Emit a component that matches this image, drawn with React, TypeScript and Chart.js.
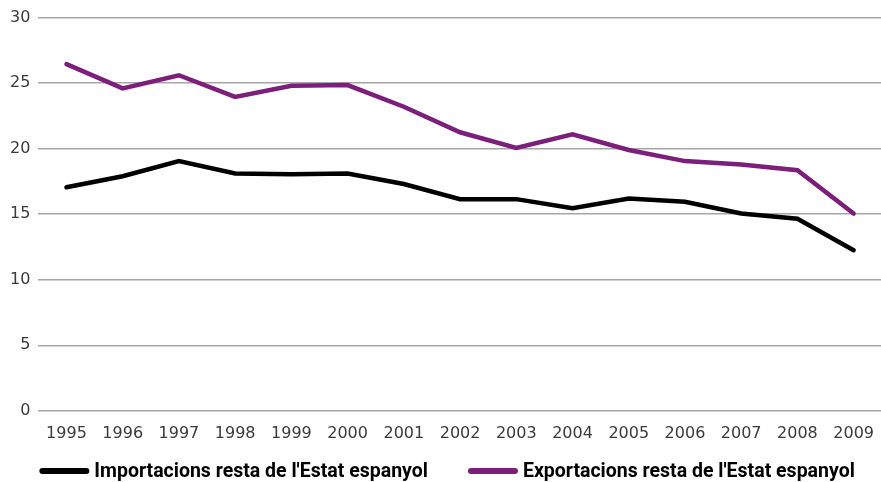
import React, { useEffect, useRef } from "react";
import { Chart, registerables } from "chart.js";

Chart.register(...registerables);

const years = ["1995","1996","1997","1998","1999","2000","2001","2002","2003","2004","2005","2006","2007","2008","2009"];
const importacions = [17.05, 17.9, 19.05, 18.1, 18.05, 18.1, 17.3, 16.15, 16.15, 15.45, 16.2, 15.95, 15.05, 14.65, 12.25];
const exportacions = [26.45, 24.6, 25.6, 23.95, 24.8, 24.85, 23.2, 21.25, 20.05, 21.1, 19.9, 19.05, 18.8, 18.35, 15.05];
const seriesNames = ["Importacions resta de l'Estat espanyol", "Exportacions resta de l'Estat espanyol"];
const yTicks = [0, 5, 10, 15, 20, 25, 30];

const lineLegend = {
  id: "lineLegend",
  afterDraw(chart: any) {
    const ctx = chart.ctx;
    const area = chart.chartArea;
    const y = chart.height - 11;
    ctx.save();
    ctx.font = "bold 19.5px Roboto";
    ctx.textBaseline = "middle";
    ctx.textAlign = "left";
    let x = area.left + 1;
    chart.data.datasets.forEach((ds: any) => {
      ctx.strokeStyle = ds.borderColor;
      ctx.lineWidth = 6;
      ctx.lineCap = "round";
      ctx.beginPath();
      ctx.moveTo(x + 3, y);
      ctx.lineTo(x + 47, y);
      ctx.stroke();
      ctx.fillStyle = "#000";
      ctx.fillText(ds.label, x + 55, y + 1);
      x += 55 + ctx.measureText(ds.label).width + 40;
    });
    ctx.restore();
  },
};

export default function App() {
  const ref = useRef<HTMLCanvasElement>(null);
  useEffect(() => {
    if (!ref.current) return;
    const chart = new Chart(ref.current, {
      type: "line",
      data: {
        labels: years,
        datasets: [
          {
            label: seriesNames[0],
            data: importacions,
            borderColor: "#000000",
            backgroundColor: "#000000",
            borderWidth: 4.5,
            pointRadius: 0,
            tension: 0,
            borderCapStyle: "round",
          },
          {
            label: seriesNames[1],
            data: exportacions,
            borderColor: "#7B1F7A",
            backgroundColor: "#7B1F7A",
            borderWidth: 4.5,
            pointRadius: 0,
            tension: 0,
            borderCapStyle: "round",
          },
        ],
      },
      plugins: [lineLegend],
      options: {
        animation: false,
        responsive: false,
        maintainAspectRatio: false,
        layout: { padding: { left: 2, top: 8, right: 0, bottom: 26 } },
        plugins: {
          tooltip: { enabled: false },
          legend: { display: false },
        },
        scales: {
          x: {
            offset: true,
            grid: { display: false, drawTicks: false },
            border: { display: false },
            ticks: {
              color: "#3a3a3a",
              font: { family: "DejaVu Sans", size: 16 },
              padding: 13,
              maxRotation: 0,
              autoSkip: false,
            },
          },
          y: {
            min: 0,
            max: 30,
            afterBuildTicks: (axis: any) => {
              axis.ticks = yTicks.map((v) => ({ value: v }));
            },
            grid: { color: "#a6a6a6", lineWidth: 1.5, drawTicks: false },
            border: { display: false },
            ticks: {
              color: "#3a3a3a",
              font: { family: "DejaVu Sans", size: 16 },
              padding: 8,
            },
          },
        },
      },
    });
    return () => chart.destroy();
  }, []);
  return (
    <div style={{ position: "fixed", left: 0, top: 0, width: 881, height: 482, overflow: "hidden", background: "#fff" }}>
      <canvas ref={ref} width={887} height={482} style={{ width: 887, height: 482, display: "block" }} />
    </div>
  );
}
